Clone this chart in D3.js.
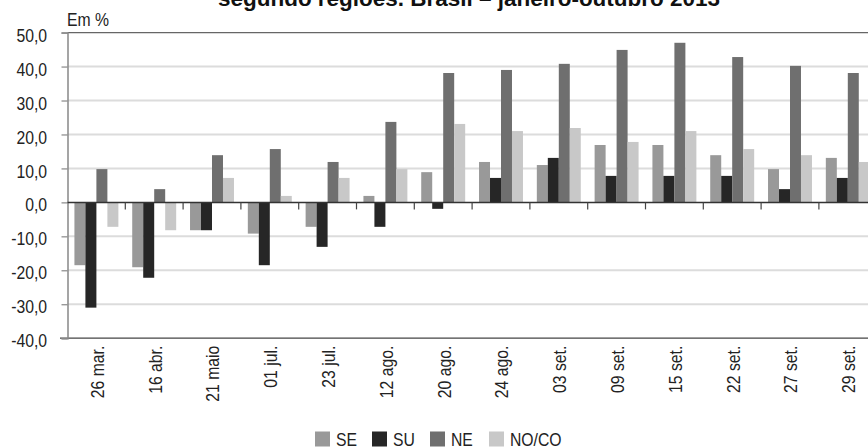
<!DOCTYPE html>
<html>
<head>
<meta charset="utf-8">
<script src="https://cdn.jsdelivr.net/npm/d3@7"></script>
<style>
  html, body { margin: 0; padding: 0; background: #fff; }
  svg { display: block; }
  text { font-family: "Liberation Sans", Arial, sans-serif; fill: #222; }
</style>
</head>
<body>
<svg id="chart" width="868" height="448"></svg>
<script>
// Categories (survey dates, 2013)
const categories = ["26 mar.", "16 abr.", "21 maio", "01 jul.", "23 jul.", "12 ago.", "20 ago.",
                    "24 ago.", "03 set.", "09 set.", "15 set.", "22 set.", "27 set.", "29 set."];
const seriesNames = ["SE", "SU", "NE", "NO/CO"];
// Values per region, in %
const SE   = [-18.5, -19.1, -8.2, -9.2, -7.2,  1.9,  8.9, 11.9, 11.0, 16.9, 16.9, 13.9,  9.8, 13.1];
const SU   = [-31.0, -22.2, -8.2, -18.5, -13.1, -7.2, -1.9, 7.2, 13.1,  7.8,  7.8,  7.8,  3.9,  7.2];
const NE   = [  9.8,   3.9, 13.9, 15.7, 11.9, 23.7, 38.1, 39.0, 40.8, 44.9, 47.0, 42.8, 40.2, 38.1];
const NOCO = [ -7.2,  -8.2,  7.2,  1.9,  7.2,  9.8, 23.1, 21.0, 21.9, 17.8, 21.0, 15.7, 13.9, 11.9];
const yTicks = [-40, -30, -20, -10, 0, 10, 20, 30, 40, 50];
const colors = ["#999999", "#262626", "#6f6f6f", "#c8c8c8"];

const title = "segundo regiões. Brasil – janeiro-outubro 2013";
const unitLabel = "Em %";

const seriesValues = [SE, SU, NE, NOCO];
const rows = categories.map((c, i) => ({
  cat: c,
  vals: seriesNames.map((s, j) => ({ key: s, value: seriesValues[j][i], color: colors[j] }))
}));

// Slight horizontal squeeze for a semi-condensed look
const NARROW = 0.9;
const FS = 17.5;

const svg = d3.select("#chart");
const plotLeft = 67.5, plotRight = 876.7, plotTop = 32.6, plotBottom = 338.2;

const x = d3.scaleBand().domain(categories).range([plotLeft, plotRight]).paddingInner(0).paddingOuter(0);
const x1 = d3.scaleBand().domain(seriesNames).range([0, x.bandwidth()]).paddingInner(0).paddingOuter(0.63);
const y = d3.scaleLinear().domain([-40, 50]).range([plotBottom, plotTop]);

const locale = d3.formatLocale({ decimal: ",", thousands: ".", grouping: [3], currency: ["R$", ""], minus: "-" });
const fmt = locale.format(".1f");

// Title (top of chart, partly above the frame)
svg.append("text")
  .attr("x", 469).attr("y", 5.5)
  .attr("text-anchor", "middle")
  .attr("textLength", 502)
  .attr("lengthAdjust", "spacingAndGlyphs")
  .style("font-size", "22px").style("font-weight", "bold")
  .style("fill", "#111")
  .text(title);

// Unit label
svg.append("text")
  .attr("transform", `translate(67,26) scale(${NARROW},1)`)
  .style("font-size", FS + "px")
  .text(unitLabel);

// Horizontal gridlines
svg.append("g").selectAll("line")
  .data(yTicks.filter(t => t !== 0 && t !== 50 && t !== -40))
  .join("line")
  .attr("x1", plotLeft).attr("x2", 868)
  .attr("y1", d => y(d)).attr("y2", d => y(d))
  .attr("stroke", "#dcdcdc").attr("stroke-width", 2);

// Top border line at 50
svg.append("line")
  .attr("x1", plotLeft).attr("x2", 868)
  .attr("y1", y(50)).attr("y2", y(50))
  .attr("stroke", "#666").attr("stroke-width", 1.2);

// Bottom line at -40
svg.append("line")
  .attr("x1", 60).attr("x2", 868)
  .attr("y1", y(-40)).attr("y2", y(-40))
  .attr("stroke", "#444").attr("stroke-width", 1.2);

// Left axis with ticks and labels
const yAxis = d3.axisLeft(y).tickValues(yTicks).tickFormat(fmt).tickSize(6).tickPadding(20.5);
const gy = svg.append("g").attr("transform", `translate(${plotLeft},0)`).call(yAxis);
gy.select(".domain").attr("stroke", "#888").attr("stroke-width", 1.5);
gy.selectAll(".tick line").attr("stroke", "#888").attr("stroke-width", 1.2);
gy.selectAll(".tick text")
  .attr("x", -20.5 / NARROW)
  .attr("dy", "0.49em")
  .attr("transform", `scale(${NARROW},1)`)
  .style("font-size", FS + "px")
  .style("font-family", "\"Liberation Sans\", Arial, sans-serif")
  .attr("fill", "#222");

// Bars
const groups = svg.append("g").selectAll("g")
  .data(rows)
  .join("g")
  .attr("transform", d => `translate(${x(d.cat)},0)`);

groups.selectAll("rect")
  .data(d => d.vals)
  .join("rect")
  .attr("x", d => x1(d.key))
  .attr("width", x1.bandwidth())
  .attr("y", d => y(Math.max(0, d.value)))
  .attr("height", d => Math.abs(y(d.value) - y(0)))
  .attr("fill", d => d.color);

// Zero line with category separator ticks
svg.append("line")
  .attr("x1", plotLeft).attr("x2", 868)
  .attr("y1", y(0)).attr("y2", y(0))
  .attr("stroke", "#333").attr("stroke-width", 1.5);

svg.append("g").selectAll("line")
  .data(categories.slice(1))
  .join("line")
  .attr("x1", d => x(d)).attr("x2", d => x(d))
  .attr("y1", y(0)).attr("y2", y(0) + 7)
  .attr("stroke", "#444").attr("stroke-width", 1.2);

// Category labels, rotated (squeezed along the reading direction)
svg.append("g").selectAll("text")
  .data(categories)
  .join("text")
  .attr("transform", d => `translate(${x(d) + x.bandwidth() / 2 + 7.3},${plotBottom + 7.5}) rotate(-90) scale(${NARROW},1)`)
  .attr("text-anchor", "end")
  .style("font-size", FS + "px")
  .text(d => d);

// Legend
const legendItems = [
  { key: "SE", x: 315 },
  { key: "SU", x: 372 },
  { key: "NE", x: 430 },
  { key: "NO/CO", x: 489 }
];
const lg = svg.append("g").selectAll("g")
  .data(legendItems)
  .join("g")
  .attr("transform", d => `translate(${d.x},431.5)`);
lg.append("rect")
  .attr("width", 15).attr("height", 15)
  .attr("fill", d => colors[seriesNames.indexOf(d.key)]);
lg.append("text")
  .attr("transform", `translate(21,14.3) scale(${NARROW},1)`)
  .style("font-size", FS + "px")
  .text(d => d.key);
</script>
</body>
</html>
